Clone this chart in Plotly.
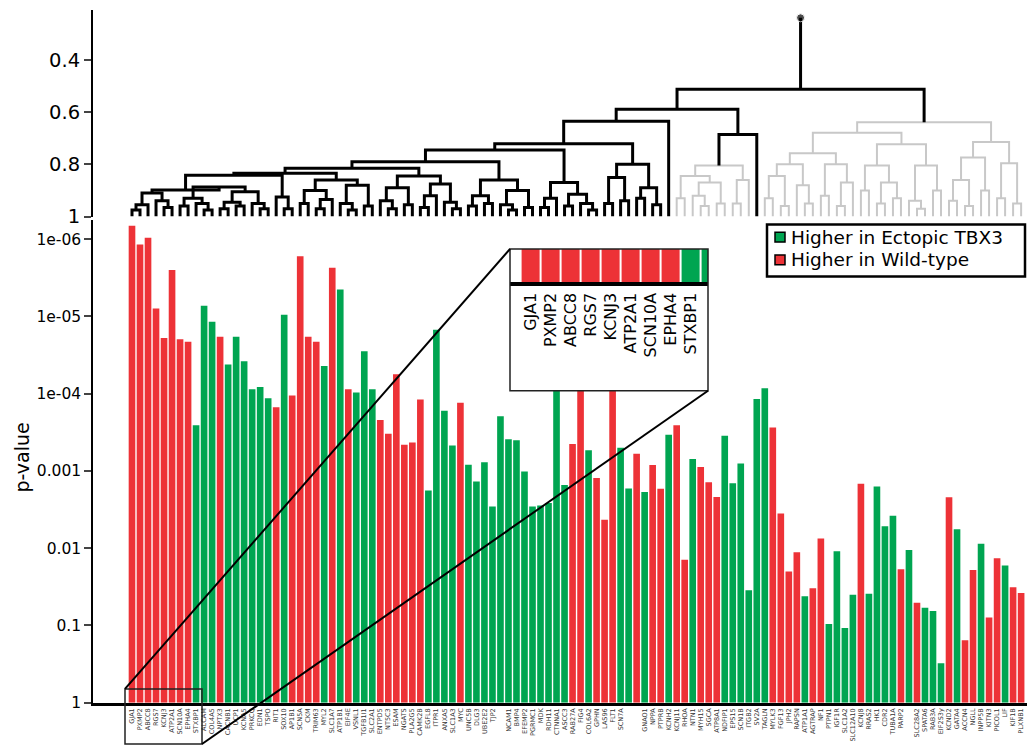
import plotly.graph_objects as go

# ---------------- data ----------------
genes = ["GJA1","PXMP2","ABCC8","RGS7","KCNJ3","ATP2A1","SCN10A","EPHA4","STXBP1","ALCAM",
         "COL4A5","NPTX3","CACNB1","UCP1","KCNA5","PRKCQ","EDN1","TSPO","RIT1","SOX10",
         "AP1B1","SCN5A","CKM","TRIM63","MYL2","SLC1A7","ATP1B1","EIF4E","VSNL1","TGFB1I1",
         "SLC2A1","ENTPD5","NT5C3","ESAM","NGATS","PLA2G5","CAMK2B","EGFL8","ITPR1","ANXA5",
         "SLC1A3","MYC","UNC5B","DLG3","UBE2E2","TJP2","","NCAM1","BMP4","EFEMP2",
         "PGRMC1","MDK","RDH11","CTNNA1","ASCC3","RAB27A","FIG4","COL6A2","GPHN","LAS96",
         "FLT1","SCN7A","","","GNAO1","NPPA","PTPRB","KCNH2","KCNJ11","RHOA",
         "NTN1","MYH15","SGCA","ATP8A1","NDFIP1","EPS15","SCN1B","ITGB2","SV2A","TAGLN",
         "MYLK3","FGF13","JPH2","RAPSN","ATP1A1","AGTRAP","NF1","PTPN1","IGF1R","SLC1A2",
         "SLC12A10","KCNJ8","RRAS2","HK1","CDR2","TUBA1A","PARP2","","SLC28A2","SPATA6",
         "RAB3A","EIF2S3y","KCND2","GATA4","ACCN4","NGLL","INPP5B","KITN3","PICOL1","LIF",
         "KIF1B","PLXNB1"]

pvalues = [6.7e-7, 1.17e-6, 9.6e-7, 7.9e-6, 1.9e-5, 2.5e-6, 1.97e-5, 2.13e-5, 2.56e-4, 7.3e-6,
           1.17e-5, 1.84e-5, 4.2e-5, 1.84e-5, 3.8e-5, 8.8e-5, 8.2e-5, 1.15e-4, 1.5e-4, 9.5e-6,
           1.06e-4, 1.66e-6, 1.84e-5, 2.13e-5, 4.4e-5, 2.34e-6, 4.5e-6, 8.8e-5, 9.7e-5, 2.83e-5,
           8.8e-5, 2.2e-4, 3.3e-4, 5.6e-5, 4.6e-4, 4.3e-4, 1.19e-4, 1.8e-3, 1.49e-5, 1.66e-4,
           4.7e-4, 1.31e-4, 8.3e-4, 1.37e-3, 7.7e-4, 2.9e-3, 1.96e-4, 3.9e-4, 4.0e-4, 1.02e-3,
           2.9e-3, 2.8e-3, 2.6e-3, 8.4e-5, 1.52e-3, 4.5e-4, 8.4e-5, 5.4e-4, 1.24e-3, 4.3e-3,
           8.4e-5, 5.0e-4, 1.69e-3, 6.0e-4, 1.88e-3, 8.4e-4, 1.7e-3, 3.4e-4, 2.56e-4, 1.41e-2,
           7.0e-4, 8.9e-4, 1.4e-3, 2.18e-3, 3.5e-4, 1.44e-3, 8.0e-4, 3.5e-2, 1.17e-4, 8.5e-5,
           2.74e-4, 3.55e-3, 2.0e-2, 1.13e-2, 4.2e-2, 3.3e-2, 7.5e-3, 9.6e-2, 1.1e-2, 0.108,
           4.0e-2, 1.47e-3, 3.9e-2, 1.59e-3, 5.2e-3, 3.8e-3, 1.87e-2, 1.06e-2, 5.1e-2, 5.9e-2,
           6.5e-2, 0.31, 2.2e-3, 5.7e-3, 0.156, 1.92e-2, 8.8e-3, 7.9e-2, 1.35e-2, 1.68e-2,
           3.2e-2, 3.8e-2]

# W = higher in wild-type (red), E = higher in ectopic TBX3 (green)
direction = list("WWWWWWWWEEEWEEEEEEWEWWWWEWEWEEEWWWWWWEEEEWEEEEEEEEEEEEEWWEWWWEEWEWWEWWEWWWEEEEEEWWWWEWWEEEEWEEEEWEWEEEWEWWEWWEWW")

ylabel_text = "p-value"
ytick_vals = [1e-6, 1e-5, 1e-4, 1e-3, 1e-2, 1e-1, 1]
ytick_text = ["1e-06", "1e-05", "1e-04", "0.001", "0.01", "0.1", "1"]
dend_ticks = [0.4, 0.6, 0.8, 1.0]
dend_ticktext = ["0.4", "0.6", "0.8", "1"]
legend_keys = ["E", "W"]
legend_names = {"E": "Higher in Ectopic TBX3", "W": "Higher in Wild-type"}
inset_n = 10

# dendrogram: node = [merge height, left, right, (colour)] ; 0 = leaf (leaves in bar order)
L = [0.898, [0.91, [0.955, [0.975, 0, 0], 0], [0.94, 0, [0.965, 0, 0]]],
     [0.887, [0.93, [0.96, 0, 0], [0.95, 0, [0.975, 0, 0]]],
      [0.905, [0.945, [0.97, 0, 0], [0.96, 0, 0]], [0.95, 0, [0.97, 0, 0]]]]]
R = [0.925, 0, [0.97, 0, 0]]
Q = [0.86, [0.90, [0.95, 0, 0], [0.935, [0.97, 0, 0], 0]], [0.88, [0.95, 0, [0.975, 0, 0]], [0.96, 0, 0]]]
T = [0.845, [0.89, [0.94, 0, [0.97, 0, 0]], [0.955, 0, 0]], [0.875, [0.92, [0.965, 0, 0], 0], [0.945, 0, [0.97, 0, 0]]]]
U = [0.86, [0.92, [0.96, 0, 0], [0.95, 0, 0]], [0.90, [0.955, 0, [0.975, 0, 0]], [0.965, 0, 0]]]
V = [0.87, [0.93, [0.965, 0, 0], 0], [0.915, [0.96, 0, 0], [0.95, 0, [0.975, 0, 0]]]]
N1 = [0.842, L, R]
N2 = [0.834, N1, Q]
N3 = [0.815, N2, T]
N4 = [0.79, N3, U]
A1 = [0.745, N4, V]
A2 = [0.80, [0.85, [0.95, 0, 0], [0.94, 0, 0]], [0.89, [0.93, 0, 0], [0.955, 0, 0]]]
A = [0.635, [0.721, A1, A2], 0]
B = [0.804, [0.845, [0.93, 0, 0], [0.87, [0.92, 0, [0.96, 0, 0]], [0.95, 0, 0]]],
     [0.86, [0.95, 0, 0], 0], "g"]
C1a = [0.757, [0.80, [0.845, [0.93, 0, 0], [0.96, 0, 0]], [0.88, 0, [0.95, 0, 0]]],
       [0.80, [0.92, 0, 0], [0.87, [0.96, 0, 0], 0]]]
C1b = [0.723, [0.804, [0.90, 0, 0], [0.87, [0.95, 0, 0], [0.93, 0, 0]]],
       [0.804, [0.94, 0, [0.97, 0, 0]], [0.90, 0, 0]]]
C2 = [0.714, [0.774, [0.86, [0.94, 0, 0], [0.96, 0, 0]], [0.90, 0, 0]],
      [0.796, [0.93, 0, 0], [0.95, 0, 0]]]
C = [0.639, [0.679, C1a, C1b], C2, "g"]
tree = [0.512, [0.589, A, [0.686, B, 0]], C, "k"]
root_top = 0.238

# ---------------- figure ----------------
RED = "#ED3237"
GREEN = "#00A551"
col = {"E": GREEN, "W": RED}
W, H = 1027, 756
FONT = "DejaVu Sans"

def px_x(p):
    return p / W

def px_y(p):
    return (H - p) / H

x_idx = list(range(len(pvalues)))
fig = go.Figure()

for key in legend_keys:
    xs = [i for i in x_idx if direction[i] == key]
    ps = [pvalues[i] for i in xs]
    # bars run from each p-value down to p = 1 on the reversed log axis
    fig.add_trace(go.Bar(x=xs, base=ps, y=[1.0 - p for p in ps], width=0.83, name=legend_names[key],
                         marker=dict(color=col[key], line=dict(width=0)),
                         showlegend=False, xaxis="x", yaxis="y", hoverinfo="skip"))

# dendrogram
counter = [0]
segs = {"k": ([], []), "g": ([], [])}

def walk(node, colour):
    if node == 0:
        i = counter[0]
        counter[0] += 1
        return float(i), 1.0
    h, l, r = node[0], node[1], node[2]
    c = node[3] if len(node) > 3 else colour
    xl, hl = walk(l, c)
    xr, hr = walk(r, c)
    xs, ys = segs[c]
    xs += [xl, xl, xr, xr, None]
    ys += [hl, h, h, hr, None]
    return (xl + xr) / 2.0, h

rx, rh = walk(tree, "k")
fig.add_trace(go.Scatter(x=segs["g"][0], y=segs["g"][1], mode="lines", line=dict(color="#C8C8C8", width=2),
                         showlegend=False, xaxis="x2", yaxis="y2", hoverinfo="skip"))
fig.add_trace(go.Scatter(x=segs["k"][0], y=segs["k"][1], mode="lines", line=dict(color="black", width=3),
                         showlegend=False, xaxis="x2", yaxis="y2", hoverinfo="skip"))
fig.add_trace(go.Scatter(x=[rx, rx], y=[rh, root_top], mode="lines+markers",
                         line=dict(color="black", width=3), marker=dict(size=[0, 8], color="black"),
                         showlegend=False, xaxis="x2", yaxis="y2", hoverinfo="skip"))

# inset (magnified first genes)
for key in legend_keys:
    xs = [i for i in range(inset_n) if direction[i] == key]
    ps = [pvalues[i] for i in xs]
    fig.add_trace(go.Bar(x=xs, base=ps, y=[1.0 - p for p in ps], width=0.9,
                         marker=dict(color=col[key], line=dict(width=0)), showlegend=False,
                         xaxis="x3", yaxis="y3", hoverinfo="skip"))

spacing = 8.01
c0 = 132.0
dom_l, dom_r = 93, 1027
xr_main = [(dom_l - c0) / spacing, (dom_r - c0) / spacing]
bottom_px, top_px = 714, 224
dec = 78.5

ins_l, ins_r, ins_t, ins_b = 510, 708, 253, 397
ins_base = 289
ins_dec = 202.0

fig.update_layout(
    width=W, height=H, margin=dict(l=0, r=0, t=0, b=0),
    paper_bgcolor="white", plot_bgcolor="white", showlegend=False,
    barmode="overlay", font=dict(family=FONT, color="black"),
    xaxis=dict(domain=[px_x(dom_l), 1.0], range=xr_main, showline=True, linecolor="black", linewidth=3,
               tickmode="array", tickvals=x_idx, ticktext=genes, tickangle=-90, ticks="",
               tickfont=dict(size=6.5, color="#333333"), showgrid=False, zeroline=False),
    yaxis=dict(domain=[px_y(bottom_px), px_y(top_px)], type="log",
               range=[0, -(bottom_px - top_px) / dec], showline=True, linecolor="black", linewidth=1.5,
               tickmode="array", tickvals=ytick_vals, ticktext=ytick_text, ticks="outside",
               ticklen=7, tickwidth=1.5, tickfont=dict(size=15.5), showgrid=False, zeroline=False),
    xaxis2=dict(domain=[px_x(dom_l), 1.0], range=xr_main, anchor="y2", showline=False,
                showticklabels=False, ticks="", showgrid=False, zeroline=False),
    yaxis2=dict(domain=[px_y(220), px_y(10)], anchor="x2",
                range=[1.0, 1.0 - 210 / 265.0], showline=True, linecolor="black", linewidth=2,
                tickmode="array", tickvals=dend_ticks, ticktext=dend_ticktext, ticks="outside",
                ticklen=7, tickwidth=2, tickfont=dict(size=19.5), showgrid=False, zeroline=False),
    xaxis3=dict(domain=[px_x(ins_l), px_x(ins_r)], range=[-1.03, 8.87], anchor="free",
                position=px_y(ins_base), showline=True, linecolor="black", linewidth=4,
                tickmode="array", tickvals=list(range(inset_n)), ticktext=genes[:inset_n],
                tickangle=-90, ticks="", tickfont=dict(size=16, color="black"),
                showgrid=False, zeroline=False),
    yaxis3=dict(domain=[px_y(ins_b), px_y(ins_t)], anchor="x3", type="log",
                range=[(ins_b - ins_base) / ins_dec, -(ins_base - ins_t) / ins_dec],
                showline=False, showticklabels=False, ticks="", showgrid=False, zeroline=False),
)

# legend box drawn by hand (matplotlib-style)
leg_l, leg_r, leg_t, leg_b = 767, 1025, 228, 281
row_y = [241, 264]
shapes = [
    dict(type="rect", xref="paper", yref="paper", x0=px_x(ins_l), x1=px_x(ins_r),
         y0=px_y(ins_b), y1=px_y(ins_t), line=dict(color="#222222", width=1.5), layer="above"),
    dict(type="rect", xref="paper", yref="paper", x0=px_x(125), x1=px_x(202),
         y0=px_y(756), y1=px_y(700), line=dict(color="#222222", width=1.5), layer="above"),
    dict(type="line", xref="paper", yref="paper", x0=px_x(125), y0=px_y(700),
         x1=px_x(ins_l), y1=px_y(ins_t), line=dict(color="black", width=2), layer="above"),
    dict(type="line", xref="paper", yref="paper", x0=px_x(202), y0=px_y(756),
         x1=px_x(ins_r), y1=px_y(ins_b), line=dict(color="black", width=2), layer="above"),
    dict(type="rect", xref="paper", yref="paper", x0=px_x(leg_l), x1=px_x(leg_r),
         y0=px_y(leg_b), y1=px_y(leg_t), line=dict(color="black", width=2.5),
         fillcolor="white", layer="above"),
]
for k, key in enumerate(legend_keys):
    cy = row_y[k]
    shapes.append(dict(type="rect", xref="paper", yref="paper", x0=px_x(775), x1=px_x(785),
                       y0=px_y(cy + 5), y1=px_y(cy - 5), fillcolor=col[key],
                       line=dict(color="black", width=1.5), layer="above"))
    fig.add_annotation(x=px_x(789), y=px_y(cy), xref="paper", yref="paper", text=legend_names[key],
                       xanchor="left", yanchor="middle", showarrow=False,
                       font=dict(size=18.5, color="black"))
fig.update_layout(shapes=shapes)

fig.add_annotation(x=px_x(22), y=px_y(465), xref="paper", yref="paper", text=ylabel_text,
                   textangle=-90, showarrow=False, xanchor="center", yanchor="middle",
                   font=dict(size=19, color="black"))

fig.write_html("out.html", config={"displayModeBar": False},
               post_script="document.body.style.margin='0px';document.body.style.overflow='hidden';")
